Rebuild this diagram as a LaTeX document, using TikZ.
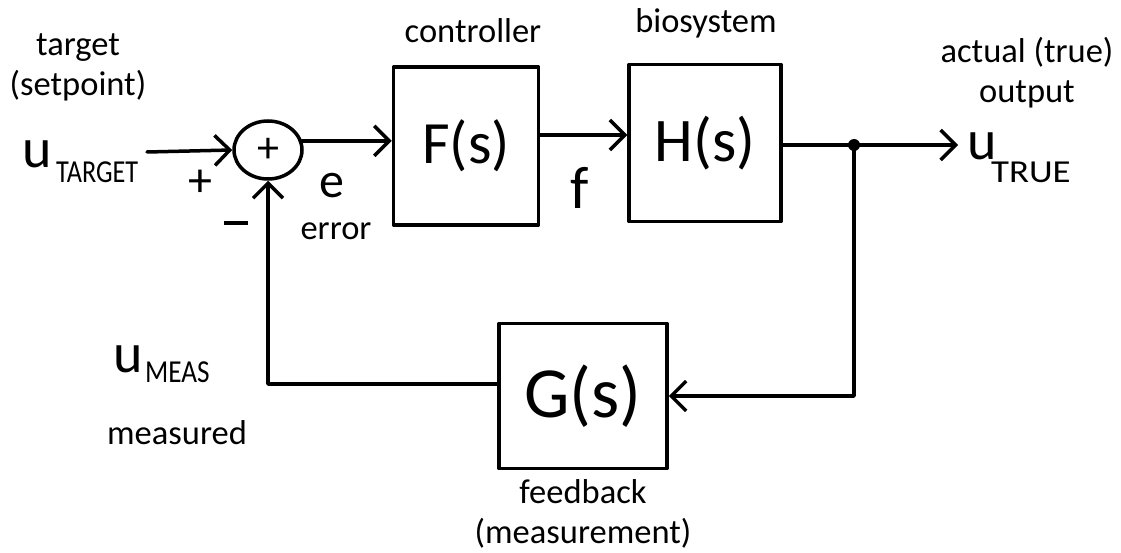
\documentclass[tikz,border=0pt]{standalone}
\usepackage{fontspec}
\setmainfont{Carlito}
\usepackage{graphicx}
\usetikzlibrary{arrows.meta,calc,positioning,shapes.geometric}
\newcommand{\uvar}[3]{{\fontsize{56}{56}\selectfont u}\kern#1\raisebox{-#2}{\fontsize{32}{32}\selectfont #3}}

\begin{document}
\begin{tikzpicture}[x=1pt,y=-1pt,line width=3.5pt,line cap=round,line join=round,
  lbl/.style={font=\fontsize{34.5}{40}\selectfont,align=center},
  blk/.style={draw,font=\fontsize{60}{60}\selectfont},
  sig/.style={-{Straight Barb[length=15pt,width=30pt,line width=3.5pt]}}]
  \useasboundingbox (0,0) rectangle (1121,553);
  \node[draw,ellipse,minimum width=68pt,minimum height=58pt,inner sep=0pt,font=\fontsize{44}{44}\selectfont] (sum) at (268,150) {+};
  \node[blk,minimum width=145pt,minimum height=158pt] (ctrl) at (466,146) {F(s)};
  \node[blk,minimum width=152pt,minimum height=157pt,font=\fontsize{62}{62}\selectfont] (bio) at (705,143) {H(s)};
  \node[blk,minimum width=168pt,minimum height=145pt,font=\fontsize{72}{72}\selectfont] (fb) at (583,396) {G(s)};
  \node[lbl] (tgttxt) at (78,67) {target\\(setpoint)};
  \node[lbl] (ctrltxt) at (473,31) {controller};
  \node[lbl] (biotxt) at (706,23) {biosystem};
  \node[lbl] (outtxt) at (1027,73) {actual (true)\\output};
  \node[lbl] (errtxt) at (336,231) {error};
  \node[lbl] (meastxt) at (177,433) {measured};
  \node[lbl] (fbtxt) at (583,514) {feedback\\(measurement)};
  \node[anchor=base west,inner sep=0pt] (utgt) at (21,168) {\uvar{4pt}{15pt}{\scalebox{0.82}[1]{TARGET}}};
  \node[anchor=base west,inner sep=0pt] (utrue) at (966,160) {\uvar{-6pt}{23pt}{\scalebox{1.15}[1]{TRUE}}};
  \node[anchor=base west,inner sep=0pt] (umeas) at (112,372) {\uvar{2pt}{10pt}{\scalebox{0.85}[1]{MEAS}}};
  \node[font=\fontsize{48}{48}\selectfont] (plus) at (200,183) {+};
  \node[inner sep=0pt] (minus) at (236,223) {\rule{24pt}{3.5pt}};
  \node[font=\fontsize{50}{50}\selectfont] (esig) at (332,186) {e};
  \node[font=\fontsize{60}{60}\selectfont] (fsig) at (580,188) {f};
  \coordinate (in) at (147,152);
  \coordinate (fo) at ($(ctrl.east)+(0,-11)$);
  \coordinate (fb-in) at ($(fb.west)+(0,-12)$);
  \coordinate (tap) at (854,145);
  \coordinate (out) at (958,145);
  \draw[sig] (in) -- (sum.west);
  \draw[sig] (sum.15) -- (sum.15 -| ctrl.west);
  \draw[sig] (fo) -- (fo -| bio.west);
  \draw (bio.east |- tap) -- (tap);
  \fill (tap) circle (6pt);
  \draw[sig] (tap) -- (out);
  \draw[sig] (tap) |- (fb.east);
  \draw[sig] (fb-in) -| (sum.south);
\end{tikzpicture}
\end{document}
